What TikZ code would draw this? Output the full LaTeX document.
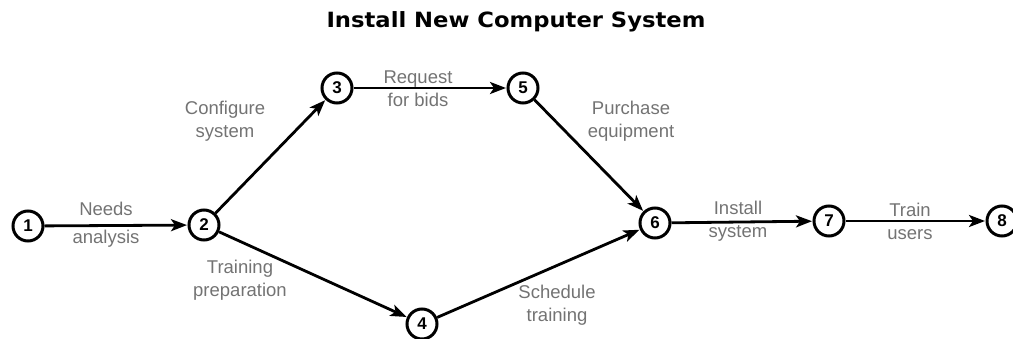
\documentclass[tikz,border=0pt]{standalone}
\usepackage{fontspec}
\setmainfont{Liberation Sans}
\newfontfamily\titlefont{DejaVu Sans}
\usetikzlibrary{arrows.meta}
\begin{document}
\begin{tikzpicture}[x=1pt,y=-1pt,
  ev/.style={circle,draw=black,line width=3pt,minimum size=30pt,inner sep=0pt,font=\fontsize{17}{17}\selectfont\bfseries},
  act/.style={line width=2.8pt,-{Stealth[length=16pt,width=12pt,inset=4pt]},shorten >=0.5pt},
  lbl/.style={text=black!55,font=\fontsize{18.5}{23}\selectfont,align=center,inner sep=0pt}]
\useasboundingbox (0,0) rectangle (1013,339);
\node[font=\titlefont\fontsize{21}{21}\selectfont\bfseries] (title) at (516,22) {\scalebox{1.08}[1]{Install New Computer System}};
\node[ev] (n1) at (28,226) {1};
\node[ev] (n2) at (204,225) {2};
\node[ev] (n3) at (337,88) {3};
\node[ev] (n5) at (523,88) {5};
\node[ev] (n6) at (655,223) {6};
\node[ev] (n7) at (829,221) {7};
\node[ev] (n8) at (1002,221) {8};
\node[ev] (n4) at (422,324) {4};
\draw[act] (n1) -- (n2);
\draw[act] (n2) -- (n3);
\draw[act] (n2) -- (n4);
\draw[act] (n3) -- (n5);
\draw[act] (n5) -- (n6);
\draw[act] (n4) -- (n6);
\draw[act] (n6) -- (n7);
\draw[act] (n7) -- (n8);
\node[lbl] (l1a) at (106,209) {Needs};
\node[lbl] (l1b) at (106,239) {analysis};
\node[lbl] (l2) at (225,121) {Configure\\system};
\node[lbl] (l3) at (418,89) {Request\\for bids};
\node[lbl] (l4) at (240,280) {Training\\preparation};
\node[lbl] (l5) at (631,121) {Purchase\\equipment};
\node[lbl] (l6) at (557,305) {Schedule\\training};
\node[lbl] (l7) at (738,221) {Install\\system};
\node[lbl] (l8) at (910,221) {Train\\users};
\end{tikzpicture}
\end{document}
